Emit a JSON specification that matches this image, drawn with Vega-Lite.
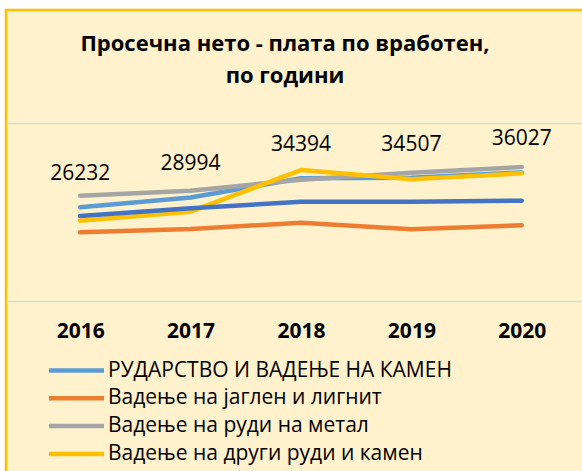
{
  "$schema": "https://vega.github.io/schema/vega-lite/v6.json",
  "width": 580,
  "height": 465,
  "autosize": {"type": "none"},
  "padding": {"left": 6, "top": 10, "right": 0, "bottom": 0},
  "background": "white",
  "config": {
    "view": {"fill": "#FFF2CC", "stroke": "#FFC000", "strokeWidth": 2.5},
    "font": "Open Sans"
  },
  "title": {
    "text": ["Просечна нето - плата по вработен,", "по години"],
    "anchor": "middle",
    "frame": "group",
    "offset": -78,
    "dx": -11,
    "fontSize": 22,
    "fontWeight": "bold",
    "lineHeight": 32,
    "color": "#000000",
    "font": "Open Sans"
  },
  "data": {
    "values": [
      {"year": "2016", "series": "РУДАРСТВО И ВАДЕЊЕ НА КАМЕН", "value": 26232},
      {"year": "2017", "series": "РУДАРСТВО И ВАДЕЊЕ НА КАМЕН", "value": 28994},
      {"year": "2018", "series": "РУДАРСТВО И ВАДЕЊЕ НА КАМЕН", "value": 34394},
      {"year": "2019", "series": "РУДАРСТВО И ВАДЕЊЕ НА КАМЕН", "value": 34507},
      {"year": "2020", "series": "РУДАРСТВО И ВАДЕЊЕ НА КАМЕН", "value": 36027},
      {"year": "2016", "series": "Вадење на јаглен и лигнит", "value": 19210},
      {"year": "2017", "series": "Вадење на јаглен и лигнит", "value": 20140},
      {"year": "2018", "series": "Вадење на јаглен и лигнит", "value": 21910},
      {"year": "2019", "series": "Вадење на јаглен и лигнит", "value": 20060},
      {"year": "2020", "series": "Вадење на јаглен и лигнит", "value": 21180},
      {"year": "2016", "series": "Вадење на руди на метал", "value": 29490},
      {"year": "2017", "series": "Вадење на руди на метал", "value": 30900},
      {"year": "2018", "series": "Вадење на руди на метал", "value": 34000},
      {"year": "2019", "series": "Вадење на руди на метал", "value": 35950},
      {"year": "2020", "series": "Вадење на руди на метал", "value": 37550},
      {"year": "2016", "series": "Вадење на други руди и камен", "value": 22470},
      {"year": "2017", "series": "Вадење на други руди и камен", "value": 25000},
      {"year": "2018", "series": "Вадење на други руди и камен", "value": 36700},
      {"year": "2019", "series": "Вадење на други руди и камен", "value": 34100},
      {"year": "2020", "series": "Вадење на други руди и камен", "value": 35790},
      {"year": "2016", "series": "Вкупно", "value": 23790},
      {"year": "2017", "series": "Вкупно", "value": 25950},
      {"year": "2018", "series": "Вкупно", "value": 27810},
      {"year": "2019", "series": "Вкупно", "value": 27810},
      {"year": "2020", "series": "Вкупно", "value": 28090}
    ]
  },
  "encoding": {
    "x": {
      "field": "year",
      "type": "ordinal",
      "scale": {"type": "point", "padding": 0.6268, "align": 0.536},
      "axis": {
        "title": null,
        "labelAngle": 0,
        "domain": false,
        "ticks": false,
        "grid": false,
        "offset": -144,
        "labelPadding": 0,
        "labelBaseline": "middle",
        "labelFontSize": 21,
        "labelFontWeight": "bold",
        "labelColor": "#000000",
        "labelFont": "Open Sans"
      }
    },
    "y": {
      "field": "value",
      "type": "quantitative",
      "scale": {"domain": [-48961, 81658], "nice": false, "zero": false},
      "axis": {
        "title": null,
        "values": [0, 50000],
        "grid": true,
        "gridColor": "#D9D9D9",
        "gridWidth": 1.3,
        "labels": false,
        "ticks": false,
        "domain": false
      }
    }
  },
  "layer": [
    {
      "mark": {"type": "line", "strokeWidth": 4.5, "strokeCap": "round", "strokeJoin": "round"},
      "encoding": {
        "color": {
          "field": "series",
          "type": "nominal",
          "sort": null,
          "scale": {
            "domain": ["РУДАРСТВО И ВАДЕЊЕ НА КАМЕН", "Вадење на јаглен и лигнит", "Вадење на руди на метал", "Вадење на други руди и камен", "Вкупно"],
            "range": ["#5B9BD5", "#ED7D31", "#A5A5A5", "#FFC000", "#4472C4"]
          },
          "legend": {
            "title": null,
            "orient": "none",
            "legendX": 60,
            "legendY": 350,
            "direction": "vertical",
            "padding": 0,
            "values": ["РУДАРСТВО И ВАДЕЊЕ НА КАМЕН", "Вадење на јаглен и лигнит", "Вадење на руди на метал", "Вадење на други руди и камен"],
            "symbolType": "M-5,0H5",
            "symbolSize": 121,
            "symbolStrokeWidth": 4.5,
            "labelOffset": 21,
            "labelFontSize": 21,
            "labelFont": "Open Sans",
            "labelColor": "#000000",
            "rowPadding": 5.8,
            "labelLimit": 500
          }
        }
      }
    },
    {
      "transform": [{"filter": "datum.series === 'РУДАРСТВО И ВАДЕЊЕ НА КАМЕН'"}],
      "mark": {"type": "text", "dy": -33, "fontSize": 21, "color": "#000000", "font": "Open Sans"},
      "encoding": {"text": {"field": "value", "type": "quantitative", "format": "d"}}
    }
  ]
}
